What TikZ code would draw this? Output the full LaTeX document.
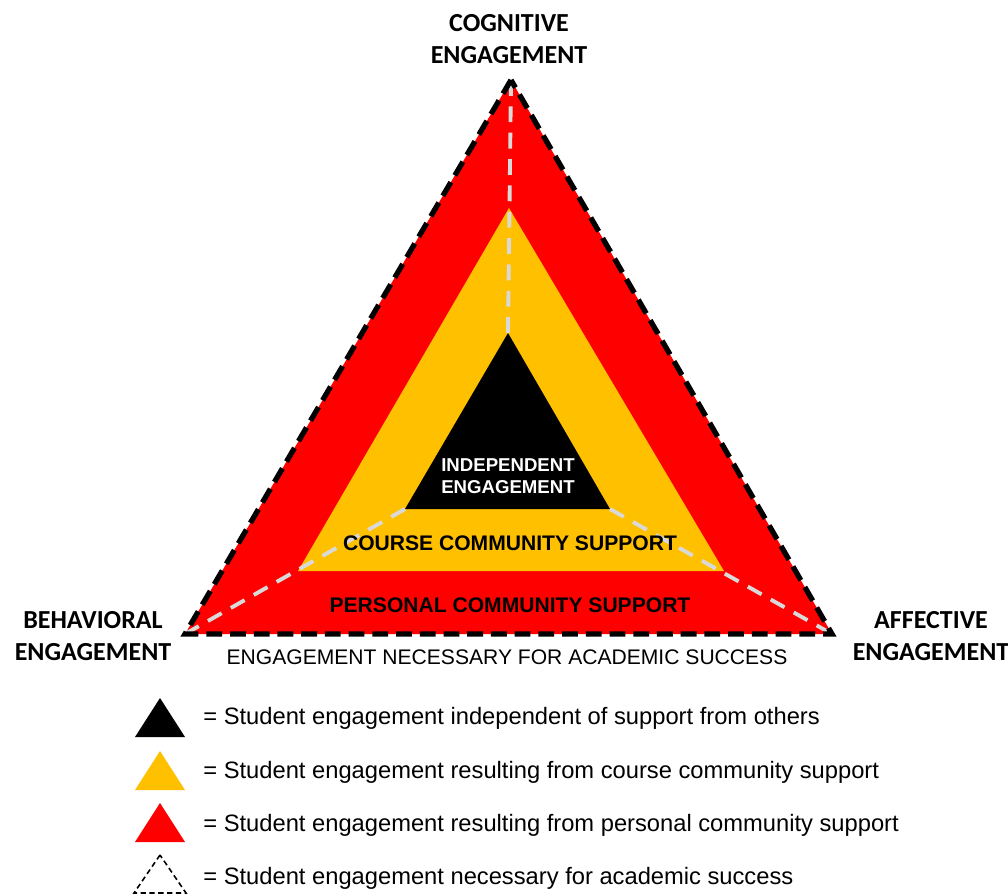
\documentclass[tikz,border=0pt]{standalone}
\usepackage{fontspec}
\setmainfont{Liberation Sans}
\newfontfamily\headfont{Carlito}
\usetikzlibrary{positioning,calc}
\definecolor{WarnRed}{RGB}{255,0,0}
\definecolor{CourseGold}{RGB}{255,192,0}
\definecolor{SeamGray}{RGB}{217,217,217}
\tikzset{
  corner/.style={font=\headfont\fontsize{14.8}{18.5}\selectfont\bfseries,align=center},
  layer/.style={font=\fontsize{12}{14}\selectfont\bfseries,align=center},
  outline/.style={draw=black,line width=3pt,dash pattern=on 9pt off 4.5pt},
  seam/.style={draw=SeamGray,line width=2.2pt,dash pattern=on 9pt off 6pt},
  keytext/.style={font=\fontsize{13.5}{15}\selectfont,anchor=west,inner sep=0pt}
}

\begin{document}
\begin{tikzpicture}[x=0.02cm,y=-0.02cm]
\useasboundingbox (0,0) rectangle (1008,893);

% Outer triangle (academic success)
\coordinate (oTop) at (511,80);
\coordinate (oLeft) at (185,634);
\coordinate (oRight) at (832,634);
\fill[WarnRed] (oTop) -- (oLeft) -- (oRight) -- cycle;

% Course community triangle
\coordinate (cTop) at (509,208);
\coordinate (cLeft) at (298,571);
\coordinate (cRight) at (724,571);
\fill[CourseGold] (cTop) -- (cLeft) -- (cRight) -- cycle;

% Independent triangle
\coordinate (iTop) at (508,333);
\coordinate (iLeft) at (405,509);
\coordinate (iRight) at (610,509);
\fill[black] (iTop) -- (iLeft) -- (iRight) -- cycle;

% Seams from inner to outer corners
\draw[seam] (iTop) -- (oTop);
\draw[seam] (iLeft) -- (oLeft);
\draw[seam] (iRight) -- (oRight);

\draw[outline,line join=miter] (oTop) -- (oLeft) -- (oRight) -- cycle;

% Layer labels
\node[layer,text=white,font=\fontsize{10.6}{12.4}\selectfont\bfseries] (indep) at (508,476) {INDEPENDENT\\ENGAGEMENT};
\node[layer] (course) at (510,543) {COURSE COMMUNITY SUPPORT};
\node[layer] (personal) at (510,605) {PERSONAL COMMUNITY SUPPORT};
\node[font=\fontsize{12}{14}\selectfont] (necessary) at (507,657) {ENGAGEMENT NECESSARY FOR ACADEMIC SUCCESS};

% Corner labels
\node[corner] (cognitive) at (509,39) {COGNITIVE\\ENGAGEMENT};
\node[corner] (behavioral) at (93,636) {BEHAVIORAL\\ENGAGEMENT};
\node[corner] (affective) at (931,636) {AFFECTIVE\\ENGAGEMENT};

% Key
\fill[black] (160,698) -- (135,737) -- (185,737) -- cycle;
\node[keytext] (keyA) at (203,718) {= Student engagement independent of support from others};
\fill[CourseGold] (160,751) -- (135,790) -- (185,790) -- cycle;
\node[keytext] (keyB) at (203,772) {= Student engagement resulting from course community support};
\fill[WarnRed] (160,803) -- (135,842) -- (185,842) -- cycle;
\node[keytext] (keyC) at (203,825) {= Student engagement resulting from personal community support};
\draw[line width=0.9pt,dash pattern=on 3pt off 2pt] (160,855) -- (134,893) -- (186,893) -- cycle;
\node[keytext] (keyD) at (203,878) {= Student engagement necessary for academic success};

\end{tikzpicture}
\end{document}
